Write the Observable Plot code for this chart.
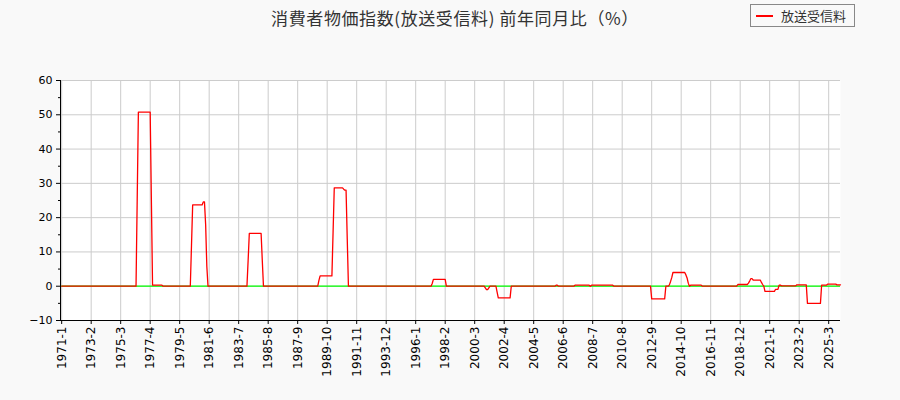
<!DOCTYPE html>
<html>
<head>
<meta charset="utf-8">
<script src="https://cdn.jsdelivr.net/npm/d3@7"></script>
<script src="https://cdn.jsdelivr.net/npm/@observablehq/plot@0.6"></script>
<style>
  html, body { margin: 0; padding: 0; background: #f9f9f9; }
  #wrap { position: relative; width: 900px; height: 400px; font-family: "DejaVu Sans", sans-serif; }
  #title { position: absolute; left: 5px; top: 5px; width: 900px; text-align: center; font-family: "Noto Sans CJK JP", sans-serif; font-size: 17px; letter-spacing: 0.6px; line-height: 26px; color: #333; }
  #legend { position: absolute; left: 750px; top: 4px; width: 105px; height: 23px; border: 1px solid #888; background: #f9f9f9; box-sizing: border-box; font-family: "Noto Sans CJK JP", sans-serif; font-size: 13px; color: #333; }
  #legend .sw { position: absolute; left: 5px; top: 10px; width: 17px; height: 2px; background: #ff0000; }
  #legend .lb { position: absolute; left: 30px; top: 1px; line-height: 19px; }
  #chart { position: absolute; left: 0; top: 0; }
</style>
</head>
<body>
<div id="wrap">
  <div id="chart"></div>
  <div id="title">消費者物価指数(放送受信料) 前年同月比（%）</div>
  <div id="legend"><div class="sw"></div><div class="lb">放送受信料</div></div>
</div>
<script>
// ---- data ----
const firstMonth = "1971-1";
const lastMonth = "2026-1";
const seriesName = "放送受信料";
// value holds from the given month until the next listed month
const changeMonths = [
  "1971-1","1976-5","1976-6","1977-5","1977-6","1978-3",
  "1980-3","1980-4","1981-1","1981-3","1981-4","1981-5",
  "1984-3","1984-4","1985-3","1985-4",
  "1989-3","1989-4","1990-3","1990-4","1990-12","1991-1","1991-3","1991-4",
  "1997-3","1997-4","1998-3",
  "2000-12","2001-1","2001-3","2001-4",
  "2001-10","2001-11","2002-10",
  "2005-12","2006-2",
  "2007-4","2008-5","2008-6","2010-1",
  "2012-9","2013-9","2013-12","2014-1","2014-2","2014-3",
  "2015-2","2015-3","2015-4","2015-5","2015-6","2016-4",
  "2018-10","2019-7","2019-8","2019-9","2019-11","2020-6","2020-7","2020-8","2020-9",
  "2021-6","2021-9","2021-11",
  "2022-12","2023-9","2024-9","2025-2","2025-10"
];
const changeValues = [
  0, 25.3, 50.8, 25.5, 0.3, 0,
  11.8, 23.7, 24.6, 18, 5.8, 0,
  7.5, 15.4, 7.5, 0,
  1.7, 3.0, 15.8, 28.7, 28.3, 28.0, 13.8, 0,
  0.8, 2.0, 0,
  -0.5, -1.0, -0.5, 0,
  -1.7, -3.4, 0,
  0.3, 0,
  0.3, 0, 0.3, 0,
  -3.7, 0, 0.4, 1.4, 2.5, 4.0,
  3.3, 2.4, 0.9, 0, 0.3, 0,
  0.5, 0.9, 1.5, 2.2, 1.8, 1.1, 0.5, 0, -1.5,
  -0.9, 0.3, 0.1,
  0.4, -5.0, 0.3, 0.6, 0.4
];
const tickStep = 25;
const yTicks = [-10, 0, 10, 20, 30, 40, 50, 60];
const yMinorTicks = [-5, 5, 15, 25, 35, 45, 55];

// ---- build table ----
const parse = s => { const [y, m] = s.split("-").map(Number); return y * 12 + (m - 1); };
const start = parse(firstMonth), end = parse(lastMonth);
const labels = [];
for (let k = start; k <= end; k++) labels.push(`${Math.floor(k / 12)}-${k % 12 + 1}`);
const changeIdx = changeMonths.map(s => parse(s) - start);
const rows = labels.map((label, i) => {
  let v = 0;
  for (let j = 0; j < changeIdx.length; j++) if (changeIdx[j] <= i) v = changeValues[j];
  return {i, label, value: v};
});
const xTicks = d3.range(0, labels.length, tickStep);
const xMax = labels.length - 1;

const chart = Plot.plot({
  width: 900, height: 400,
  marginLeft: 60, marginRight: 60, marginTop: 80, marginBottom: 80,
  style: {background: "transparent", fontFamily: "'DejaVu Sans', sans-serif", fontSize: "10px", color: "#000"},
  x: {domain: [-1, xMax], label: null},
  y: {domain: [-10, 60], label: null},
  marks: [
    Plot.frame({fill: "white", stroke: null}),
    Plot.gridX(xTicks, {stroke: "#cccccc", strokeOpacity: 1}),
    Plot.gridY(yTicks, {stroke: "#cccccc", strokeOpacity: 1}),
    Plot.ruleY([0], {x1: 0, x2: xMax, stroke: "#00ff00", strokeWidth: 1.3}),
    Plot.lineY(rows, {x: "i", y: "value", stroke: "#ff0000", strokeWidth: 1.3}),
    Plot.axisX({ticks: xTicks, tickFormat: i => labels[i], tickRotate: -90, tickSize: 4, tickPadding: 2, stroke: "#000", fill: "#000", fontSize: 12}),
    Plot.axisY({ticks: yTicks, tickSize: 4, tickPadding: 4, stroke: "#000", fill: "#000", fontSize: 11}),
    Plot.axisY({ticks: yMinorTicks, tickSize: 2, tickFormat: () => "", stroke: "#000"}),
    Plot.ruleX([-1], {stroke: "#000"}),
    Plot.ruleY([-10], {stroke: "#000"})
  ]
});
document.getElementById("chart").appendChild(chart);
</script>
</body>
</html>
